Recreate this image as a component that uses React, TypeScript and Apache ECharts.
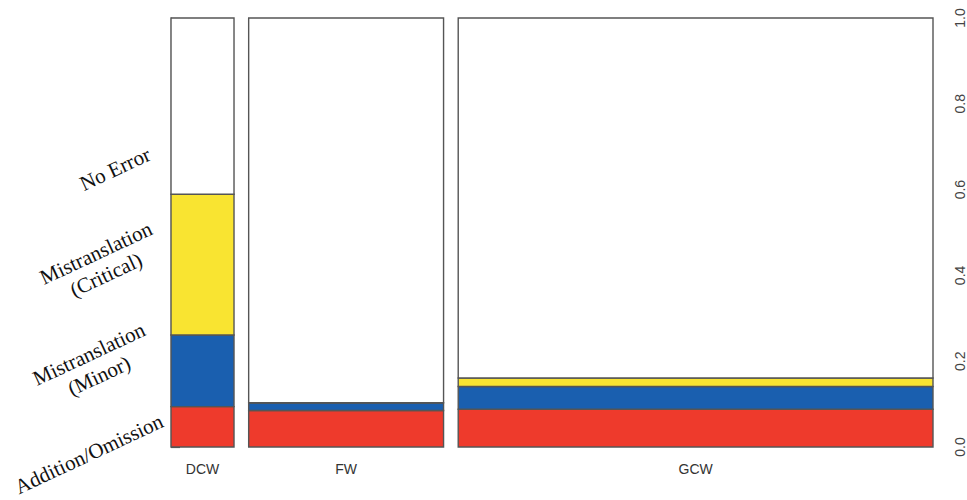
import React, { useEffect, useRef } from "react";
import * as echarts from "echarts";

const categories = ["DCW", "FW", "GCW"];
const widths = [0.086, 0.266, 0.648];
const gap = 0.02;
const levels = ["Addition/Omission", "Mistranslation\n(Minor)", "Mistranslation\n(Critical)", "No Error"];
const additionOmission = [0.094, 0.085, 0.088];
const mistranslationMinor = [0.167, 0.018, 0.053];
const mistranslationCritical = [0.328, 0.0, 0.02];
const noError = categories.map(
  (_, i) => 1 - additionOmission[i] - mistranslationMinor[i] - mistranslationCritical[i]
);
const yTicks = [0, 0.2, 0.4, 0.6, 0.8, 1.0];
const levelColors = ["#EE3A2C", "#1A5FAF", "#F9E431", "#FFFFFF"];

const levelValues = [additionOmission, mistranslationMinor, mistranslationCritical, noError];

export default function App() {
  const ref = useRef<HTMLDivElement>(null);
  useEffect(() => {
    if (!ref.current) return;
    const chart = echarts.init(ref.current, null, { renderer: "svg" });

    const x0: number[] = [];
    let acc = 0;
    widths.forEach((w, i) => {
      x0.push(acc);
      acc += w + (i < widths.length - 1 ? gap : 0);
    });
    const totalX = acc;

    const cum = categories.map(() => 0);
    const series: any[] = levelValues.map((vals, li) => {
      const data = categories.map((_, i) => {
        const lo = cum[i];
        const hi = lo + vals[i];
        cum[i] = hi;
        return [x0[i], x0[i] + widths[i], lo, hi];
      });
      return {
        type: "custom",
        name: levels[li],
        encode: { x: [0, 1], y: [2, 3] },
        data,
        renderItem: (params: any, api: any) => {
          const p0 = api.coord([api.value(0), api.value(2)]);
          const p1 = api.coord([api.value(1), api.value(3)]);
          return {
            type: "rect",
            shape: {
              x: p0[0],
              y: p1[1],
              width: p1[0] - p0[0],
              height: p0[1] - p1[1],
            },
            style: { fill: levelColors[li], stroke: "#555555", lineWidth: 1.4 },
          };
        },
      };
    });

    series.push({
      type: "custom",
      name: "labels",
      encode: { x: 0, y: 1 },
      data: categories.map((_, i) => [x0[i] + widths[i] / 2, 0, i]),
      renderItem: (params: any, api: any) => {
        const p = api.coord([api.value(0), api.value(1)]);
        return {
          type: "text",
          x: p[0],
          y: p[1] + 22,
          style: {
            text: categories[api.value(2)],
            fill: "#333333",
            font: "14px 'Liberation Sans', Arial, sans-serif",
            align: "center",
            verticalAlign: "middle",
          },
        };
      },
    });

    const rot = (25 * Math.PI) / 180;
    const leftLabels = [
      { text: levels[3], x: 115, y: 169 },
      { text: levels[2], x: 101, y: 264 },
      { text: levels[1], x: 94, y: 365 },
      { text: levels[0], x: 89, y: 454 },
    ];

    chart.setOption({
      animation: false,
      grid: { left: 171, right: 34, top: 18, bottom: 53 },
      xAxis: {
        type: "value",
        min: 0,
        max: totalX,
        show: false,
      },
      yAxis: {
        type: "value",
        position: "right",
        min: 0,
        max: 1,
        interval: 0.2,
        axisLine: { show: true, lineStyle: { color: "#555555", width: 1.2 } },
        axisTick: { show: true, length: 9, lineStyle: { color: "#555555", width: 1.2 } },
        splitLine: { show: false },
        axisLabel: {
          rotate: 90,
          margin: 20,
          color: "#444444",
          fontSize: 14,
          fontFamily: "'Liberation Sans', Arial, sans-serif",
          formatter: (v: number) => v.toFixed(1),
        },
        data: yTicks,
      },
      series,
      graphic: leftLabels.map((l) => ({
        type: "text",
        x: l.x,
        y: l.y,
        rotation: rot,
        style: {
          text: l.text,
          fill: "#111111",
          font: "21px 'Liberation Serif', 'Times New Roman', serif",
          align: "center",
          verticalAlign: "middle",
          lineHeight: 24,
        },
      })),
    });
    return () => chart.dispose();
  }, []);
  return (
    <div
      ref={ref}
      style={{ position: "absolute", left: 0, top: 0, width: 967, height: 500 }}
    />
  );
}
